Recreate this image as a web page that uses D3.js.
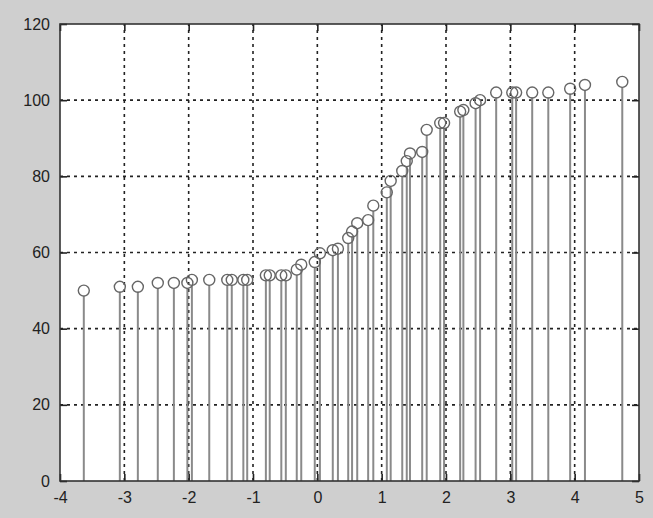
<!DOCTYPE html>
<html>
<head>
<meta charset="utf-8">
<script src="https://cdn.jsdelivr.net/npm/d3@7"></script>
<style>
  html, body { margin: 0; padding: 0; background: #cfcfcf; }
  svg { display: block; }
  .tick text { font-family: "Liberation Sans", Arial, sans-serif; font-size: 16px; fill: #222; }
</style>
</head>
<body>
<svg></svg>
<script>
var width = 653;
var height = 518;
var margin = {left: 60, right: 14, top: 24, bottom: 37};

// stem positions and heights
var xValues = [-3.63, -3.07, -2.79, -2.48, -2.23, -2.02, -1.95, -1.68, -1.40, -1.33,
  -1.15, -1.09, -0.80, -0.74, -0.56, -0.49, -0.32, -0.25, -0.04, 0.04,
  0.24, 0.32, 0.48, 0.54, 0.62, 0.79, 0.87, 1.08, 1.14, 1.32,
  1.39, 1.44, 1.63, 1.70, 1.91, 1.97, 2.22, 2.27, 2.46, 2.53,
  2.78, 3.03, 3.09, 3.34, 3.59, 3.93, 4.16, 4.74];
var yValues = [50, 51, 51, 52, 52, 52, 52.8, 52.8, 52.8, 52.8,
  52.8, 52.8, 54, 54, 54, 54, 55.5, 56.8, 57.5, 59.8,
  60.6, 61, 63.8, 65.5, 67.7, 68.5, 72.3, 75.8, 78.8, 81.4,
  84, 86, 86.4, 92.2, 94, 94, 97, 97.4, 99.2, 100,
  102, 102, 102, 102, 102, 103, 104, 104.8];
var xTicks = [-4, -3, -2, -1, 0, 1, 2, 3, 4, 5];
var yTicks = [0, 20, 40, 60, 80, 100, 120];

var data = xValues.map((x, i) => ({x: x, y: yValues[i]}));

var svg = d3.select('svg')
  .attr('width', width)
  .attr('height', height);

var xScale = d3.scaleLinear()
  .domain([-4, 5])
  .range([margin.left, width - margin.right]);

var yScale = d3.scaleLinear()
  .domain([0, 120])
  .range([height - margin.bottom, margin.top]);

// plot area
svg.append('rect')
  .attr('x', xScale(-4))
  .attr('y', yScale(120))
  .attr('width', xScale(5) - xScale(-4))
  .attr('height', yScale(0) - yScale(120))
  .attr('fill', 'white');

// dotted grid
svg.append('g')
  .selectAll('line')
  .data(xTicks.slice(1, -1))
  .enter()
  .append('line')
  .attr('x1', d => xScale(d))
  .attr('x2', d => xScale(d))
  .attr('y1', yScale(0))
  .attr('y2', yScale(120))
  .attr('stroke', '#222')
  .attr('stroke-width', 1.6)
  .attr('stroke-dasharray', '3,4');

svg.append('g')
  .selectAll('line')
  .data(yTicks.slice(1, -1))
  .enter()
  .append('line')
  .attr('x1', xScale(-4))
  .attr('x2', xScale(5))
  .attr('y1', d => yScale(d))
  .attr('y2', d => yScale(d))
  .attr('stroke', '#222')
  .attr('stroke-width', 1.6)
  .attr('stroke-dasharray', '3,4');

// stems
svg.append('g')
  .selectAll('line')
  .data(data)
  .enter()
  .append('line')
  .attr('x1', d => xScale(d.x))
  .attr('x2', d => xScale(d.x))
  .attr('y1', yScale(0))
  .attr('y2', d => yScale(d.y) + 5)
  .attr('stroke', '#8a8a8a')
  .attr('stroke-width', 2);

svg.append('g')
  .selectAll('circle')
  .data(data)
  .enter()
  .append('circle')
  .attr('cx', d => xScale(d.x))
  .attr('cy', d => yScale(d.y))
  .attr('r', 5.5)
  .attr('fill', 'none')
  .attr('stroke', '#666')
  .attr('stroke-width', 1.4);

// axes, ticks pointing inward on all four sides
var xAxis = d3.axisBottom(xScale)
  .tickValues(xTicks)
  .tickSize(-7)
  .tickSizeOuter(0)
  .tickPadding(11)
  .tickFormat(d => String(d));

var yAxis = d3.axisLeft(yScale)
  .tickValues(yTicks)
  .tickSize(-7)
  .tickSizeOuter(0)
  .tickPadding(10)
  .tickFormat(d => String(d));

svg.append('g')
  .attr('transform', 'translate(0,' + yScale(0) + ')')
  .call(xAxis);

svg.append('g')
  .attr('transform', 'translate(' + xScale(-4) + ',0)')
  .call(yAxis);

svg.append('g')
  .attr('transform', 'translate(0,' + yScale(120) + ')')
  .call(d3.axisTop(xScale).tickValues(xTicks).tickSize(-7).tickSizeOuter(0).tickFormat(''));

svg.append('g')
  .attr('transform', 'translate(' + xScale(5) + ',0)')
  .call(d3.axisRight(yScale).tickValues(yTicks).tickSize(-7).tickSizeOuter(0).tickFormat(''));

svg.selectAll('.domain').remove();
svg.selectAll('.tick line').attr('stroke', '#222').attr('stroke-width', 1.6);

// box
svg.append('rect')
  .attr('x', xScale(-4))
  .attr('y', yScale(120))
  .attr('width', xScale(5) - xScale(-4))
  .attr('height', yScale(0) - yScale(120))
  .attr('fill', 'none')
  .attr('stroke', '#333')
  .attr('stroke-width', 1.6);
</script>
</body>
</html>
